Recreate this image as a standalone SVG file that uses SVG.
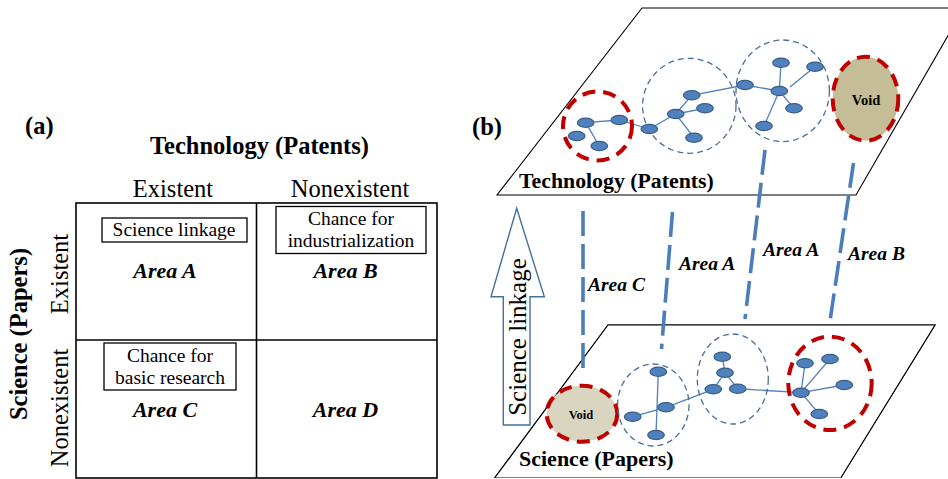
<svg xmlns="http://www.w3.org/2000/svg" width="948" height="479" viewBox="0 0 948 479">
<defs>
<style>
text{font-family:"Liberation Serif","Times New Roman",serif;fill:#000}
.b{font-weight:bold}
.bi{font-weight:bold;font-style:italic}
.grid{fill:none;stroke:#000;stroke-width:1.6}
.box{fill:#fff;stroke:#000;stroke-width:1.3}
.plane{fill:#fff;stroke:#000;stroke-width:1.1}
.n{fill:#4F81BD;stroke:#385D8A;stroke-width:1.2}
.e{stroke:#4F81BD;stroke-width:1.3;fill:none}
.bc{fill:none;stroke:#4A6E99;stroke-width:1.3;stroke-dasharray:6 4}
.rc{fill:none;stroke:#C00000;stroke-width:4;stroke-dasharray:13 8}
.link{stroke:#4A7EBB;stroke-width:3.6;stroke-dasharray:25 8;fill:none}
</style>
<linearGradient id="fade" x1="0" y1="0" x2="1" y2="0">
<stop offset="0" stop-color="#000"/>
<stop offset="1" stop-color="#bbb"/>
</linearGradient>
</defs>

<g id="panel-a">
<text x="25" y="134" class="b" font-size="24.5">(a)</text>
<text x="150" y="154" class="b" font-size="24.5">Technology (Patents)</text>
<text x="173" y="197" font-size="24.5" text-anchor="middle">Existent</text>
<text x="350" y="197" font-size="24.5" text-anchor="middle">Nonexistent</text>
<text transform="translate(27,334) rotate(-90)" class="b" font-size="24.5" text-anchor="middle">Science (Papers)</text>
<text transform="translate(68,274) rotate(-90)" font-size="24.5" text-anchor="middle">Existent</text>
<text transform="translate(68,408) rotate(-90)" font-size="24.5" text-anchor="middle">Nonexistent</text>
<g id="grid">
<rect x="76" y="203" width="361" height="275" class="grid"/>
<line x1="256.5" y1="203" x2="256.5" y2="478" class="grid"/>
<line x1="76" y1="340" x2="437" y2="340" class="grid"/>
</g>
<g id="cell-a">
<rect x="102" y="218" width="145" height="24" class="box"/>
<text x="174" y="236" font-size="19.5" text-anchor="middle">Science linkage</text>
<text x="165" y="278" class="bi" font-size="22" text-anchor="middle">Area A</text>
</g>
<g id="cell-b">
<rect x="276" y="206.5" width="150" height="47" class="box"/>
<text x="351" y="225" font-size="19.5" text-anchor="middle">Chance for</text>
<text x="351" y="247" font-size="19.5" text-anchor="middle">industrialization</text>
<text x="345.5" y="278" class="bi" font-size="22" text-anchor="middle">Area B</text>
</g>
<g id="cell-c">
<rect x="104" y="343" width="132" height="47" class="box"/>
<text x="170" y="362" font-size="19.5" text-anchor="middle">Chance for</text>
<text x="170" y="384" font-size="19.5" text-anchor="middle">basic research</text>
<text x="165" y="417" class="bi" font-size="22" text-anchor="middle">Area C</text>
</g>
<g id="cell-d">
<text x="345.5" y="417" class="bi" font-size="22" text-anchor="middle">Area D</text>
</g>
</g>

<g id="panel-b">
<text x="472" y="135" class="b" font-size="24.5">(b)</text>

<g id="arrow">
<polygon points="516.7,208.3 544.3,296.7 530,296.7 530,425 503.3,425 503.3,296.7 491,296.7" fill="#fff" stroke="#41719C" stroke-width="1.4"/>
<text transform="translate(526,337) rotate(-90)" font-size="25" text-anchor="middle">Science linkage</text>
</g>

<g id="bottom-plane">
<polygon points="608,325 935,325 841,477.5 495,477.5" class="plane" stroke="none"/>
<path d="M495,477.5 L608,325 L935,325 L841,477.5" class="plane" fill="none"/>
<line x1="495" y1="477.5" x2="841" y2="477.5" stroke="url(#fade)" stroke-width="1.6"/>
<text x="519" y="466" class="b" font-size="22">Science (Papers)</text>
</g>

<g id="top-plane">
<polygon points="642,8 964,8 856,195 497,195" class="plane"/>
<text x="519" y="188" class="b" font-size="21.8">Technology (Patents)</text>
</g>

<g id="connectors">
<line x1="583" y1="211" x2="583" y2="371" class="link"/>
<line x1="672.5" y1="212" x2="661.5" y2="349" class="link"/>
<line x1="765" y1="150" x2="745" y2="319" class="link"/>
<line x1="853.5" y1="163" x2="830" y2="321" class="link"/>
<g id="top-edges">
<line x1="585.7" y1="122.7" x2="619.3" y2="120" class="e"/>
<line x1="585.7" y1="122.7" x2="599.3" y2="146" class="e"/>
<line x1="619.3" y1="120" x2="649.3" y2="129" class="e"/>
<line x1="649.3" y1="129" x2="675.7" y2="114" class="e"/>
<line x1="675.7" y1="114" x2="691.7" y2="95.3" class="e"/>
<line x1="675.7" y1="114" x2="705" y2="108.3" class="e"/>
<line x1="675.7" y1="114" x2="694" y2="137.7" class="e"/>
<line x1="691.7" y1="95.3" x2="745" y2="85" class="e"/>
<line x1="745" y1="85" x2="779.3" y2="91" class="e"/>
<line x1="779.3" y1="91" x2="781" y2="62.7" class="e"/>
<line x1="790" y1="87" x2="815" y2="66.7" class="e"/>
<line x1="779.3" y1="91" x2="794" y2="108.3" class="e"/>
<line x1="779.3" y1="91" x2="764" y2="126" class="e"/>
</g>
<g id="bottom-edges">
<line x1="658.3" y1="371.7" x2="656" y2="435" class="e"/>
<line x1="666" y1="407.3" x2="632.7" y2="416.7" class="e"/>
<line x1="666" y1="407.3" x2="713.3" y2="389.3" class="e"/>
<line x1="725" y1="372.7" x2="713.3" y2="389.3" class="e"/>
<line x1="725" y1="372.7" x2="737.7" y2="388.7" class="e"/>
<line x1="725" y1="372.7" x2="722.3" y2="356.7" class="e"/>
<line x1="737.7" y1="388.7" x2="801" y2="392.7" class="e"/>
<line x1="801" y1="392.7" x2="805" y2="363.3" class="e"/>
<line x1="801" y1="392.7" x2="830" y2="359" class="e"/>
<line x1="801" y1="392.7" x2="844.3" y2="385" class="e"/>
<line x1="801" y1="392.7" x2="819.3" y2="414" class="e"/>
</g>
</g>

<g id="top-clusters">
<g id="t-cluster-red">
<circle cx="597.5" cy="126" r="34.5" class="rc"/>
<ellipse cx="585.7" cy="122.7" rx="8.3" ry="4.6" class="n"/>
<ellipse cx="576.7" cy="136" rx="8.3" ry="4.6" class="n"/>
<ellipse cx="599.3" cy="146" rx="8.3" ry="4.6" class="n"/>
<ellipse cx="619.3" cy="120" rx="8.3" ry="4.6" class="n"/>
</g>
<g id="t-cluster-1">
<ellipse cx="689.3" cy="105.8" rx="46.7" ry="47.5" class="bc"/>
<ellipse cx="649.3" cy="129" rx="8.3" ry="4.6" class="n"/>
<ellipse cx="675.7" cy="114" rx="8.3" ry="4.6" class="n"/>
<ellipse cx="691.7" cy="95.3" rx="8.3" ry="4.6" class="n"/>
<ellipse cx="705" cy="108.3" rx="8.3" ry="4.6" class="n"/>
<ellipse cx="694" cy="137.7" rx="8.3" ry="4.6" class="n"/>
</g>
<g id="t-cluster-2">
<ellipse cx="782.7" cy="90.8" rx="46.7" ry="50.8" class="bc"/>
<ellipse cx="745" cy="85" rx="8.3" ry="4.6" class="n"/>
<ellipse cx="781" cy="62.7" rx="8.3" ry="4.6" class="n"/>
<ellipse cx="815" cy="66.7" rx="8.3" ry="4.6" class="n"/>
<ellipse cx="779.3" cy="91" rx="8.3" ry="4.6" class="n"/>
<ellipse cx="794" cy="108.3" rx="8.3" ry="4.6" class="n"/>
<ellipse cx="764" cy="126" rx="8.3" ry="4.6" class="n"/>
</g>
<g id="t-void">
<ellipse cx="865.5" cy="98.7" rx="32.8" ry="42" fill="#C4BD97" class="rc" style="fill:#C4BD97"/>
<text x="866" y="105" class="b" font-size="14.5" text-anchor="middle">Void</text>
</g>
</g>

<g id="bottom-clusters">
<g id="b-void">
<ellipse cx="582" cy="413.7" rx="35.3" ry="28" class="rc" style="fill:#DAD5C0"/>
<text x="581" y="419" class="b" font-size="12.5" text-anchor="middle">Void</text>
</g>
<g id="b-cluster-1">
<ellipse cx="653.3" cy="405" rx="35.7" ry="41" class="bc"/>
<ellipse cx="658.3" cy="371.7" rx="8.3" ry="4.6" class="n"/>
<ellipse cx="666" cy="407.3" rx="8.3" ry="4.6" class="n"/>
<ellipse cx="632.7" cy="416.7" rx="8.3" ry="4.6" class="n"/>
<ellipse cx="656" cy="435" rx="8.3" ry="4.6" class="n"/>
</g>
<g id="b-cluster-2">
<ellipse cx="732.8" cy="379" rx="35.5" ry="45" class="bc"/>
<ellipse cx="722.3" cy="356.7" rx="8.3" ry="4.6" class="n"/>
<ellipse cx="725" cy="372.7" rx="8.3" ry="4.6" class="n"/>
<ellipse cx="713.3" cy="389.3" rx="8.3" ry="4.6" class="n"/>
<ellipse cx="737.7" cy="388.7" rx="8.3" ry="4.6" class="n"/>
</g>
<g id="b-cluster-red">
<ellipse cx="830" cy="383.3" rx="41.7" ry="46.7" class="rc"/>
<ellipse cx="801" cy="392.7" rx="8.3" ry="4.6" class="n"/>
<ellipse cx="805" cy="363.3" rx="8.3" ry="4.6" class="n"/>
<ellipse cx="830" cy="359" rx="8.3" ry="4.6" class="n"/>
<ellipse cx="844.3" cy="385" rx="8.3" ry="4.6" class="n"/>
<ellipse cx="819.3" cy="414" rx="8.3" ry="4.6" class="n"/>
</g>
</g>

<g id="link-labels">
<text x="588" y="291" class="bi" font-size="19.5">Area C</text>
<text x="679" y="270" class="bi" font-size="19.5">Area A</text>
<text x="763" y="256" class="bi" font-size="19.5">Area A</text>
<text x="848" y="260" class="bi" font-size="19.5">Area B</text>
</g>
</g>
</svg>
